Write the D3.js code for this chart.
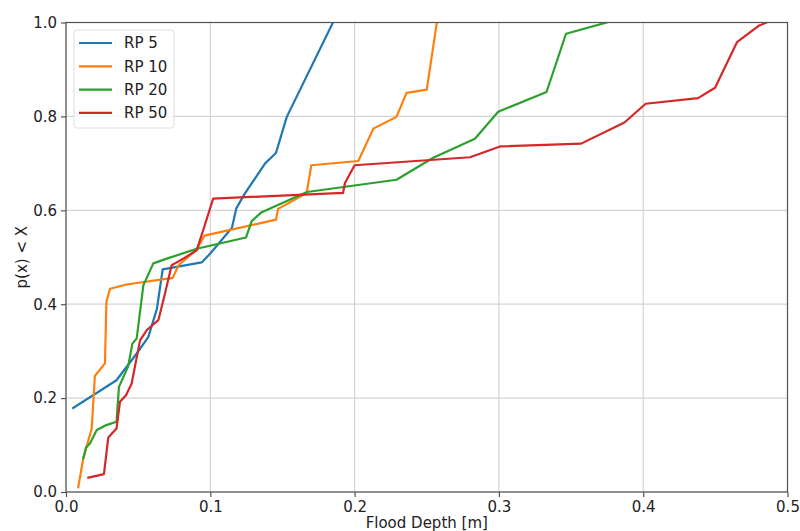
<!DOCTYPE html>
<html>
<head>
<meta charset="utf-8">
<script src="https://cdn.jsdelivr.net/npm/d3@7"></script>
<style>
  body { margin: 0; background: #fff; }
  svg text { font-family: "DejaVu Sans", sans-serif; fill: #222; }
</style>
</head>
<body>
<svg id="chart" width="800" height="531"></svg>
<script>
// flood depth [m] / cumulative probability pairs
const rp5 = [
  [0.005, 0.179], [0.035, 0.238], [0.049, 0.295], [0.057, 0.33], [0.063, 0.39],
  [0.067, 0.474], [0.094, 0.489], [0.100, 0.508], [0.115, 0.563], [0.118, 0.604],
  [0.124, 0.636], [0.138, 0.700], [0.1455, 0.722], [0.153, 0.799], [0.185, 1.0]
];
const rp10 = [
  [0.0085, 0.010], [0.012, 0.072], [0.0178, 0.135], [0.020, 0.247], [0.027, 0.274],
  [0.028, 0.405], [0.0305, 0.433], [0.042, 0.442], [0.074, 0.456], [0.078, 0.483],
  [0.0905, 0.516], [0.096, 0.546], [0.1455, 0.580], [0.147, 0.603], [0.1668, 0.637],
  [0.170, 0.696], [0.2026, 0.705], [0.213, 0.774], [0.229, 0.799], [0.236, 0.850],
  [0.250, 0.857], [0.257, 1.0]
];
const rp20 = [
  [0.012, 0.072], [0.0139, 0.095], [0.0166, 0.1035], [0.0213, 0.132], [0.028, 0.1425],
  [0.035, 0.1497], [0.0367, 0.224], [0.043, 0.267], [0.046, 0.316], [0.049, 0.327],
  [0.0536, 0.440], [0.0605, 0.487], [0.0698, 0.497], [0.0906, 0.518], [0.1247, 0.542],
  [0.1287, 0.577], [0.1356, 0.596], [0.167, 0.639], [0.229, 0.665], [0.2545, 0.712],
  [0.2834, 0.7525], [0.2995, 0.810], [0.333, 0.852], [0.3465, 0.976], [0.3747, 1.0]
];
const rp50 = [
  [0.0155, 0.0305], [0.0263, 0.038], [0.0293, 0.116], [0.035, 0.135], [0.0374, 0.192],
  [0.0416, 0.206], [0.0455, 0.231], [0.0513, 0.323], [0.056, 0.345], [0.064, 0.366],
  [0.0686, 0.423], [0.0732, 0.483], [0.0813, 0.497], [0.0906, 0.515], [0.095, 0.557],
  [0.102, 0.625], [0.192, 0.637], [0.1933, 0.658], [0.200, 0.696], [0.280, 0.713],
  [0.3008, 0.736], [0.357, 0.742], [0.387, 0.787], [0.4017, 0.827], [0.438, 0.839],
  [0.4498, 0.861], [0.465, 0.958], [0.480, 0.993], [0.4856, 1.0]
];

const seriesNames = ["RP 5", "RP 10", "RP 20", "RP 50"];
const seriesColors = ["#1f77b4", "#ff7f0e", "#2ca02c", "#d62728"];
const xTicks = [0.0, 0.1, 0.2, 0.3, 0.4, 0.5];
const yTicks = [0.0, 0.2, 0.4, 0.6, 0.8, 1.0];

const series = [rp5, rp10, rp20, rp50];
const margin = {top: 22.5, right: 12.5, bottom: 39, left: 66};
const width = 800, height = 531;

const svg = d3.select("#chart");

const x = d3.scaleLinear()
    .domain([0, 0.5])
    .range([margin.left, width - margin.right]);
const y = d3.scaleLinear()
    .domain([0, 1])
    .range([height - margin.bottom, margin.top]);

// grid
svg.append("g")
    .selectAll("line.gx")
    .data(xTicks)
    .join("line")
    .attr("x1", d => x(d)).attr("x2", d => x(d))
    .attr("y1", y(0)).attr("y2", y(1))
    .attr("stroke", "#d4d4d4")
    .attr("stroke-width", 1.2);
svg.append("g")
    .selectAll("line.gy")
    .data(yTicks)
    .join("line")
    .attr("x1", x(0)).attr("x2", x(0.5))
    .attr("y1", d => y(d)).attr("y2", d => y(d))
    .attr("stroke", "#d4d4d4")
    .attr("stroke-width", 1.2);

// lines
const line = d3.line()
    .x(d => x(d[0]))
    .y(d => y(d[1]));

const plot = svg.append("g");
plot.append("clipPath").attr("id", "clip")
    .append("rect")
    .attr("x", x(0)).attr("y", y(1))
    .attr("width", x(0.5) - x(0)).attr("height", y(0) - y(1));

series.forEach((s, i) => {
    plot.append("path")
        .datum(s)
        .attr("clip-path", "url(#clip)")
        .attr("fill", "none")
        .attr("stroke", seriesColors[i])
        .attr("stroke-width", 2.2)
        .attr("stroke-linejoin", "round")
        .attr("stroke-linecap", "square")
        .attr("d", line);
});

// frame
svg.append("rect")
    .attr("x", x(0)).attr("y", y(1))
    .attr("width", x(0.5) - x(0)).attr("height", y(0) - y(1))
    .attr("fill", "none")
    .attr("stroke", "#555")
    .attr("stroke-width", 1.2);

// axes
const xAxis = g =>
    g.attr("transform", `translate(0,${y(0)})`)
    .call(d3.axisBottom(x).tickValues(xTicks).tickFormat(d3.format(".1f")).tickSize(5).tickPadding(4))
    .call(g => g.select(".domain").remove());
const yAxis = g =>
    g.attr("transform", `translate(${x(0)},0)`)
    .call(d3.axisLeft(y).tickValues(yTicks).tickFormat(d3.format(".1f")).tickSize(5).tickPadding(4))
    .call(g => g.select(".domain").remove());

svg.append("g").call(xAxis)
    .call(g => g.selectAll("line").attr("stroke", "#555").attr("stroke-width", 1.2))
    .selectAll("text")
    .style("font-size", "15px")
    .style("font-family", "DejaVu Sans, sans-serif")
    .style("fill", "#222");
svg.append("g").call(yAxis)
    .call(g => g.selectAll("line").attr("stroke", "#555").attr("stroke-width", 1.2))
    .selectAll("text")
    .style("font-size", "15px")
    .style("font-family", "DejaVu Sans, sans-serif")
    .style("fill", "#222");

// axis titles
svg.append("text")
    .attr("x", (x(0) + x(0.5)) / 2)
    .attr("y", 528)
    .attr("text-anchor", "middle")
    .style("font-size", "15px")
    .text("Flood Depth [m]");
svg.append("text")
    .attr("transform", `translate(27,${(y(0) + y(1)) / 2}) rotate(-90)`)
    .attr("text-anchor", "middle")
    .style("font-size", "15px")
    .text("p(x) < X");

// legend
const legend = svg.append("g").attr("transform", "translate(74,30)");
legend.append("rect")
    .attr("width", 100).attr("height", 98)
    .attr("rx", 3)
    .attr("fill", "#fff")
    .attr("fill-opacity", 0.8)
    .attr("stroke", "#ddd");
seriesNames.forEach((name, i) => {
    const gy = 13 + i * 23.3;
    legend.append("line")
        .attr("x1", 5).attr("x2", 38)
        .attr("y1", gy).attr("y2", gy)
        .attr("stroke", seriesColors[i])
        .attr("stroke-width", 2.2);
    legend.append("text")
        .attr("x", 50).attr("y", gy)
        .attr("dy", "0.35em")
        .style("font-size", "15px")
        .text(name);
});
</script>
</body>
</html>
